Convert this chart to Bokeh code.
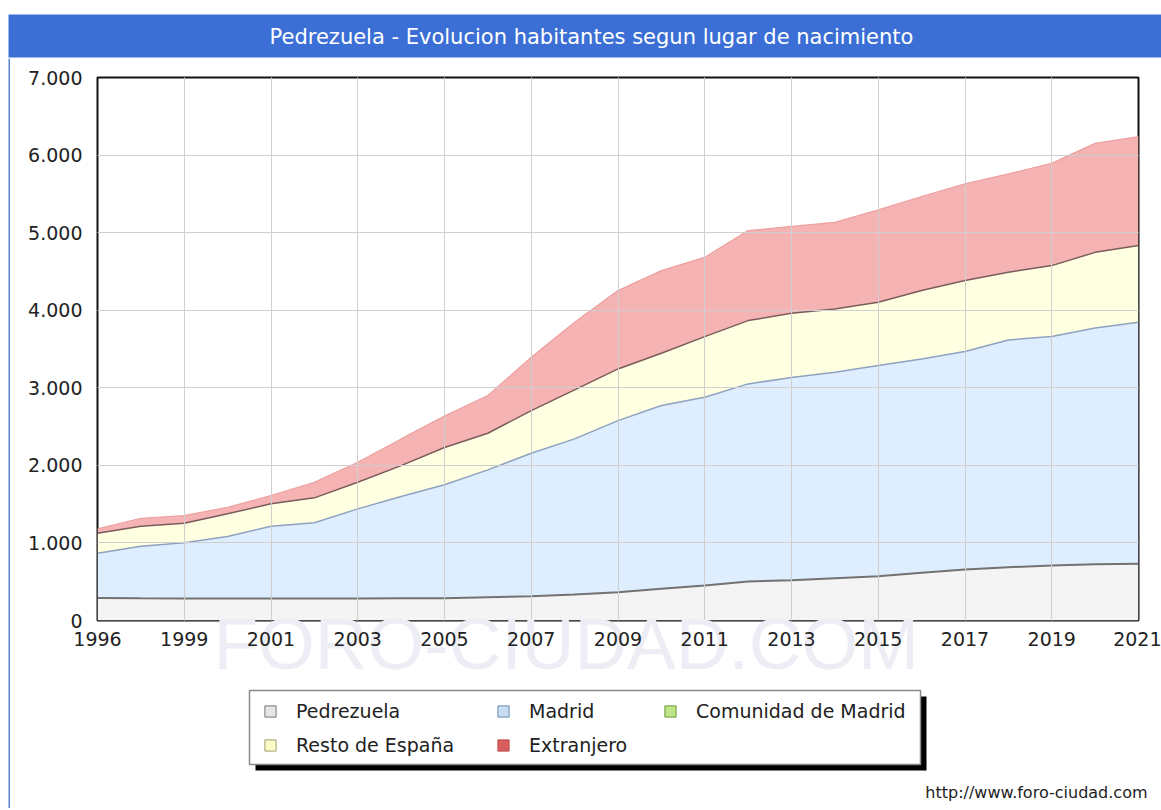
from bokeh.plotting import figure
from bokeh.models import (ColumnDataSource, Range1d, FixedTicker, Legend, LegendItem,
                          Label, BoxAnnotation, Title)
from bokeh.layouts import column, row
from bokeh.transform import stack
from bokeh.embed import file_html
from bokeh.resources import INLINE

# ---------------- data ----------------
title_text = "Pedrezuela - Evolucion habitantes segun lugar de nacimiento"
years = [1996, 1998, 1999, 2000, 2001, 2002, 2003, 2004, 2005, 2006, 2007, 2008,
         2009, 2010, 2011, 2012, 2013, 2014, 2015, 2016, 2017, 2018, 2019, 2020, 2021]
pedrezuela = [290, 286, 284, 283, 283, 284, 285, 286, 287, 300, 313, 335,
              365, 408, 451, 503, 520, 545, 571, 614, 657, 687, 709, 726, 730]
madrid = [577, 672, 717, 799, 932, 975, 1154, 1312, 1462, 1642, 1843, 2006,
          2212, 2363, 2427, 2547, 2612, 2655, 2715, 2758, 2810, 2930, 2951, 3046, 3114]
comunidad = [0, 0, 0, 0, 0, 0, 0, 0, 0, 0, 0, 0,
             0, 0, 0, 0, 0, 0, 0, 0, 0, 0, 0, 0, 0]
resto = [258, 257, 253, 293, 289, 322, 343, 399, 481, 472, 550, 632,
         666, 674, 782, 816, 828, 816, 816, 881, 915, 872, 915, 974, 989]
extranjero = [56, 103, 99, 85, 107, 201, 258, 344, 405, 486, 687, 871,
              1010, 1065, 1022, 1160, 1120, 1117, 1191, 1211, 1246, 1268, 1318, 1405, 1404]

series_names = ["Pedrezuela", "Madrid", "Comunidad de Madrid", "Resto de España", "Extranjero"]
y_tick_values = [0, 1000, 2000, 3000, 4000, 5000, 6000, 7000]
y_tick_labels = ["0", "1.000", "2.000", "3.000", "4.000", "5.000", "6.000", "7.000"]
url_text = "http://www.foro-ciudad.com"
watermark_text = "FORO-CIUDAD.COM"

# ---------------- styles ----------------
keys = ["ped", "mad", "com", "res", "ext"]
area_fill = ["#f4f4f4", "#dfeeff", "#e6f5cf", "#ffffe2", "#f5b3b3"]
legend_fill = ["#e6e6e6", "#c9ddf2", "#bfe487", "#fbfbc8", "#d95f5f"]
legend_line = ["#777777", "#6a8db4", "#6c9a3a", "#a0a070", "#c04c4c"]
BLUE = "#3b6fd6"
EDGE = "#5b84d4"
PAGE_W = 1161
HDR_H = 58
MAIN_H = 628
FOOT_H = 122
STRIP_W = 10
FONT = "DejaVu Sans"


def no_align(fig):
    if "frame_align" in fig.properties():
        fig.frame_align = False


def bare(fig):
    fig.outline_line_color = None
    fig.grid.visible = False
    fig.background_fill_color = "white"
    fig.border_fill_color = "white"
    no_align(fig)


src = ColumnDataSource(dict(x=list(range(len(years))), ped=pedrezuela, mad=madrid,
                            com=comunidad, res=resto, ext=extranjero))

# ---------------- header (title bar), page coordinates ----------------
hdr = figure(width=PAGE_W, height=HDR_H, x_range=Range1d(0, PAGE_W),
             y_range=Range1d(HDR_H, 0), toolbar_location=None, output_backend="svg",
             min_border=0, x_axis_location=None, y_axis_location=None)
bare(hdr)
hdr.add_layout(BoxAnnotation(left=8, top=14, bottom=57, fill_color=BLUE, fill_alpha=1,
                             line_color=None))
hdr.add_layout(Label(x=591, y=36, text=title_text, text_align="center",
                     text_baseline="middle", text_color="white",
                     text_font=FONT, text_font_size="21px"))

# ---------------- left edge strip ----------------
strip = figure(width=STRIP_W, height=MAIN_H + FOOT_H, x_range=Range1d(0, STRIP_W),
               y_range=Range1d(HDR_H + MAIN_H + FOOT_H, HDR_H), toolbar_location=None,
               output_backend="svg", min_border=0, x_axis_location=None,
               y_axis_location=None)
bare(strip)
strip.add_layout(BoxAnnotation(left=8, right=10, fill_color=EDGE, fill_alpha=1,
                               line_color=None))

# ---------------- main chart ----------------
p = figure(width=PAGE_W - STRIP_W, height=MAIN_H, x_range=Range1d(0, len(years) - 1),
           y_range=Range1d(0, 7000), toolbar_location=None, output_backend="svg",
           min_border_left=87, min_border_right=23, min_border_top=19,
           min_border_bottom=66)
no_align(p)
p.background_fill_color = "white"
p.border_fill_color = "white"
p.outline_line_color = "#111111"
p.outline_line_width = 2

p.varea_stack(stackers=keys, x="x", source=src, color=area_fill)

line_specs = [(1, "#727272", 2), (2, "#8ea2c0", 1.5), (4, "#7a5c5c", 1.5), (5, "#eea0a0", 1.2)]
for k, c, w in line_specs:
    p.line(x="x", y=stack(*keys[:k]), source=src, line_color=c, line_width=w)

x_ticks = list(range(0, len(years), 2))
p.xaxis.ticker = FixedTicker(ticks=x_ticks)
p.xaxis.major_label_overrides = {i: str(years[i]) for i in x_ticks}
p.yaxis.ticker = FixedTicker(ticks=y_tick_values)
p.yaxis.major_label_overrides = dict(zip(y_tick_values, y_tick_labels))
for ax in (p.xaxis[0], p.yaxis[0]):
    ax.axis_line_color = None
    ax.major_tick_line_color = None
    ax.minor_tick_line_color = None
    ax.major_tick_out = 0
    ax.major_tick_in = 0
    ax.major_label_text_font = FONT
    ax.major_label_text_font_size = "19px"
    ax.major_label_text_color = "#222222"
p.xaxis.major_label_standoff = 11
p.yaxis.major_label_standoff = 15
p.xaxis.level = "overlay"   # year labels painted over the watermark

p.xgrid.ticker = FixedTicker(ticks=x_ticks[1:-1])
p.ygrid.ticker = FixedTicker(ticks=y_tick_values[1:-1])
p.grid.grid_line_color = "#cfcfcf"
p.grid.grid_line_width = 1
p.grid.level = "guide"

# faint watermark under the year labels
p.add_layout(Title(text=watermark_text, align="left", offset=116, vertical_align="top",
                   standoff=-92, text_font="Liberation Sans", text_font_size="73px",
                   text_font_style="normal", text_color="#ededf5"),
             "below")

# ---------------- footer with legend, page coordinates ----------------
top_f = HDR_H + MAIN_H
foot = figure(width=PAGE_W - STRIP_W, height=FOOT_H, x_range=Range1d(STRIP_W, PAGE_W),
              y_range=Range1d(top_f + FOOT_H, top_f), toolbar_location=None,
              output_backend="svg", min_border=0, x_axis_location=None,
              y_axis_location=None)
bare(foot)
foot.add_layout(BoxAnnotation(left=255, right=926, top=696, bottom=770,
                              fill_color="black", fill_alpha=1, line_color=None))
foot.add_layout(BoxAnnotation(left=249, right=920, top=690, bottom=764,
                              fill_color="white", fill_alpha=1, line_color="#8a8a8a",
                              line_alpha=1, line_width=1.5))

nan = float("nan")
dummies = {}
for key, fc, lc in zip(keys, legend_fill, legend_line):
    dsrc = ColumnDataSource(dict(x=[nan], y=[nan]))
    dummies[key] = foot.scatter(x="x", y="y", source=dsrc, marker="square", size=11,
                                fill_color=fc, line_color=lc, line_width=1)
names = dict(zip(keys, series_names))
ROW_H, GAP, LEG_TOP = 28, 6, 697
columns_spec = [(["ped", "res"], 256), (["mad", "ext"], 489), (["com"], 656)]
for ks, left_px in columns_spec:
    items = [LegendItem(label=names[k], renderers=[dummies[k]]) for k in ks]
    h = len(ks) * ROW_H + (len(ks) - 1) * GAP
    loc = (left_px - STRIP_W, (top_f + FOOT_H) - (LEG_TOP + h))
    lg = Legend(items=items, location=loc, orientation="vertical",
                border_line_color=None, background_fill_alpha=0, padding=0, margin=0,
                spacing=GAP, glyph_width=28, glyph_height=28, label_height=28,
                label_standoff=12, label_text_font=FONT,
                label_text_font_size="19px", label_text_color="#222222")
    foot.add_layout(lg)

foot.add_layout(Label(x=1147, y=792, text=url_text, text_align="right",
                      text_baseline="middle", text_font=FONT, text_font_size="16px",
                      text_color="#222222"))

layout = column(hdr, row(strip, column(p, foot, spacing=0), spacing=0), spacing=0)
open("out.html", "w").write(file_html(layout, INLINE))
